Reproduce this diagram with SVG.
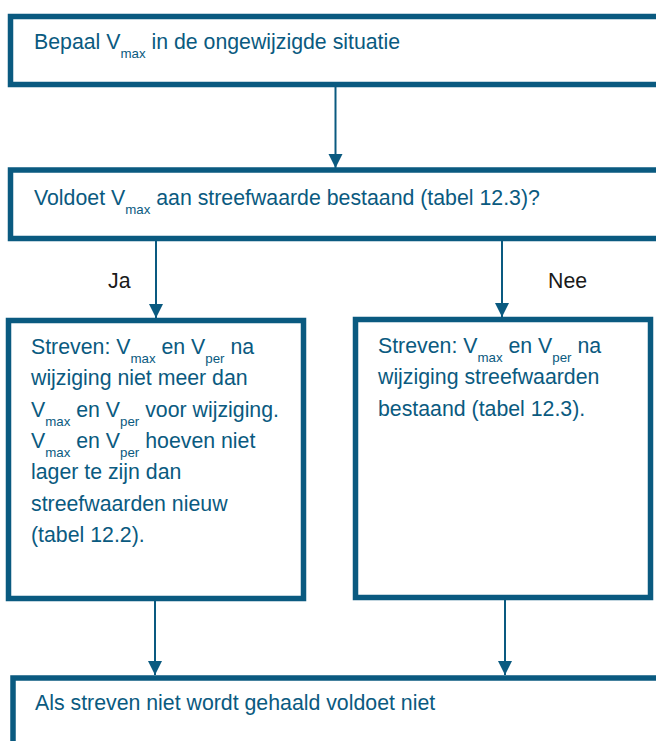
<svg xmlns="http://www.w3.org/2000/svg" width="656" height="741" viewBox="0 0 656 741">
  <defs>
    <marker id="ah" markerUnits="userSpaceOnUse" markerWidth="15" markerHeight="15" refX="14" refY="7" orient="auto">
      <path d="M0,0 L14,7 L0,14 z" fill="#0a5a80"/>
    </marker>
    <style>
      .box { fill: #ffffff; stroke: #0a5a80; stroke-width: 5.5; }
      .conn { stroke: #0a5a80; stroke-width: 2; fill: none; marker-end: url(#ah); }
      .t { font-family: "Liberation Sans", Arial, sans-serif; font-size: 21.3px; fill: #0a5a80; }
      .lbl { font-family: "Liberation Sans", Arial, sans-serif; font-size: 21.3px; fill: #1a1a1a; }
      .sub { font-size: 13.3px; }
    </style>
  </defs>
  <rect width="656" height="741" fill="#ffffff"/>

  <g id="connectors">
    <line class="conn" x1="335.5" y1="86" x2="335.5" y2="168"/>
    <line class="conn" x1="156" y1="241" x2="156" y2="318"/>
    <line class="conn" x1="502" y1="241" x2="502" y2="317"/>
    <line class="conn" x1="155" y1="601" x2="155" y2="675"/>
    <line class="conn" x1="505" y1="600" x2="505" y2="675"/>
    <text class="lbl" x="108" y="288">Ja</text>
    <text class="lbl" x="548" y="288">Nee</text>
  </g>

  <g id="node-bepaal">
    <rect class="box" x="10.5" y="16.5" width="700" height="68"/>
    <text class="t" x="34" y="49">Bepaal V<tspan class="sub" dy="9">max</tspan><tspan dy="-9"> in de ongewijzigde situatie</tspan></text>
  </g>

  <g id="node-voldoet">
    <rect class="box" x="10.5" y="170" width="700" height="68.5"/>
    <text class="t" x="34" y="205">Voldoet V<tspan class="sub" dy="9">max</tspan><tspan dy="-9"> aan streefwaarde bestaand (tabel 12.3)?</tspan></text>
  </g>

  <g id="node-ja">
    <rect class="box" x="8.5" y="320.5" width="295" height="278"/>
    <text class="t" x="31" y="354">Streven: V<tspan class="sub" dy="9">max</tspan><tspan dy="-9"> en V</tspan><tspan class="sub" dy="9">per</tspan><tspan dy="-9"> na</tspan></text>
    <text class="t" x="31" y="385.3">wijziging niet meer dan</text>
    <text class="t" x="31" y="416.6">V<tspan class="sub" dy="9">max</tspan><tspan dy="-9"> en V</tspan><tspan class="sub" dy="9">per</tspan><tspan dy="-9"> voor wijziging.</tspan></text>
    <text class="t" x="31" y="447.9">V<tspan class="sub" dy="9">max</tspan><tspan dy="-9"> en V</tspan><tspan class="sub" dy="9">per</tspan><tspan dy="-9"> hoeven niet</tspan></text>
    <text class="t" x="31" y="479.2">lager te zijn dan</text>
    <text class="t" x="31" y="510.5">streefwaarden nieuw</text>
    <text class="t" x="31" y="541.8">(tabel 12.2).</text>
  </g>

  <g id="node-nee">
    <rect class="box" x="355.5" y="319.5" width="295" height="278"/>
    <text class="t" x="378" y="353">Streven: V<tspan class="sub" dy="9">max</tspan><tspan dy="-9"> en V</tspan><tspan class="sub" dy="9">per</tspan><tspan dy="-9"> na</tspan></text>
    <text class="t" x="378" y="384.3">wijziging streefwaarden</text>
    <text class="t" x="378" y="415.6">bestaand (tabel 12.3).</text>
  </g>

  <g id="node-als">
    <rect class="box" x="13" y="678" width="700" height="100"/>
    <text class="t" x="35" y="710">Als streven niet wordt gehaald voldoet niet</text>
  </g>
</svg>
